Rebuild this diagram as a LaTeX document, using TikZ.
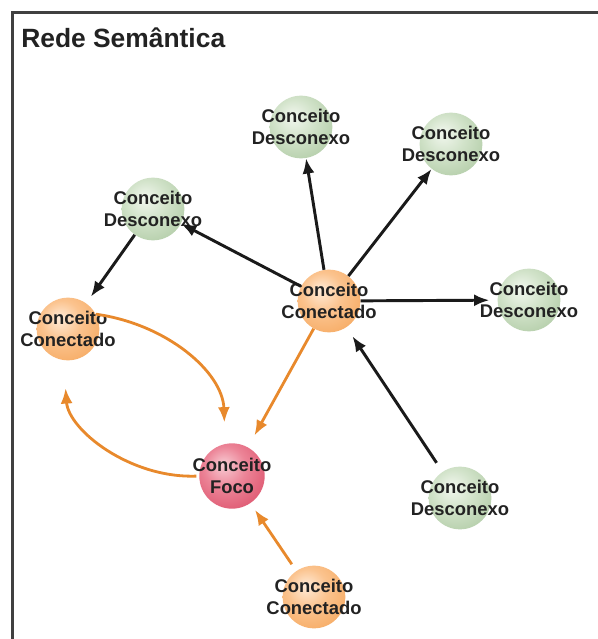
\documentclass[tikz,border=0pt]{standalone}
\usepackage{fontspec}
\setmainfont{Liberation Sans}
\usetikzlibrary{arrows.meta}

% palette
\definecolor{frameline}{HTML}{404040}
\definecolor{inktext}{HTML}{222222}
\definecolor{inkline}{HTML}{1A1A1A}
\definecolor{linkorange}{HTML}{E8892C}
\definecolor{orA}{HTML}{FFEBD8}
\definecolor{orB}{HTML}{FBC38E}
\definecolor{orC}{HTML}{F4A050}
\definecolor{grA}{HTML}{F2F7EF}
\definecolor{grB}{HTML}{D2E3CA}
\definecolor{grC}{HTML}{A5C399}
\definecolor{rdA}{HTML}{F8CCD4}
\definecolor{rdB}{HTML}{EC8497}
\definecolor{rdC}{HTML}{D7425E}

% sphere-like fills with an upper-left highlight
\pgfdeclareradialshading{orangeball}{\pgfpoint{-7bp}{9bp}}{color(0bp)=(orA); color(16bp)=(orB); color(42bp)=(orC); color(65bp)=(orC)}
\pgfdeclareradialshading{greenball}{\pgfpoint{-7bp}{9bp}}{color(0bp)=(grA); color(16bp)=(grB); color(42bp)=(grC); color(65bp)=(grC)}
\pgfdeclareradialshading{redball}{\pgfpoint{-7bp}{9bp}}{color(0bp)=(rdA); color(16bp)=(rdB); color(42bp)=(rdC); color(65bp)=(rdC)}

\tikzset{
  txt/.style={font=\bfseries\fontsize{13.8pt}{16pt}\selectfont, text=inktext, align=center, inner sep=0pt},
  sphere/.style={circle, inner sep=0pt, minimum size=47pt},
  connected/.style={sphere, shading=orangeball},
  loose/.style={sphere, shading=greenball},
  focal/.style={sphere, shading=redball, minimum size=49pt},
  plainlink/.style={draw=inkline, line width=2.2pt, -{Latex[length=11.5pt,width=9pt]}},
  focuslink/.style={draw=linkorange, line width=2.1pt, -{Latex[length=11.5pt,width=9pt]}},
}

\begin{document}
\begin{tikzpicture}[x=0.75pt, y=-0.75pt]
  \useasboundingbox (0,0) rectangle (598,639);
  \fill[white] (0,0) rectangle (598,639);

  % open frame: top and left edges
  \draw[frameline, line width=2.3pt] (12.5,639) -- (12.5,12.5) -- (598,12.5);
  \node[anchor=base west, inner sep=0pt, font=\bfseries\fontsize{19.8pt}{22pt}\selectfont, text=inktext] (title) at (21,47) {Rede Semântica};

  % concepts
  \node[loose, label={[txt]center:Conceito\\Desconexo}] (dtop) at (301,127) {};
  \node[loose, label={[txt]center:Conceito\\Desconexo}] (dtr) at (451,144) {};
  \node[loose, label={[txt]center:Conceito\\Desconexo}] (dleft) at (153,209) {};
  \node[connected, label={[txt]center:Conceito\\Conectado}] (chub) at (329,301) {};
  \node[loose, label={[txt]center:Conceito\\Desconexo}] (dright) at (529,300) {};
  \node[connected, label={[txt]center:Conceito\\Conectado}] (cleft) at (68,329) {};
  \node[focal, label={[txt]center:Conceito\\Foco}] (foco) at (232,476) {};
  \node[loose, label={[txt]center:Conceito\\Desconexo}] (dbr) at (460,498) {};
  \node[connected, label={[txt]center:Conceito\\Conectado}] (cbot) at (314,597) {};

  % plain links
  \draw[plainlink] (chub) -- (dtop);
  \draw[plainlink] (chub) -- (dtr);
  \draw[plainlink] (chub) -- (dleft);
  \draw[plainlink, shorten >=6pt] (chub) -- (dright);
  \draw[plainlink, shorten >=6pt] (dleft) -- (cleft);
  \draw[plainlink, shorten <=8pt, shorten >=8pt] (dbr) -- (chub);

  % links around the focus concept
  \draw[focuslink, shorten >=10pt] (chub) -- (foco);
  \draw[focuslink, shorten <=6pt, shorten >=6pt] (cbot) -- (foco);
  \draw[focuslink, shorten >=16pt] (cleft.28) to[out=-8, in=92] (foco.102);
  \draw[focuslink, shorten <=2pt, shorten >=21pt] (foco.180) to[out=182, in=-86] (cleft.262);
\end{tikzpicture}
\end{document}
